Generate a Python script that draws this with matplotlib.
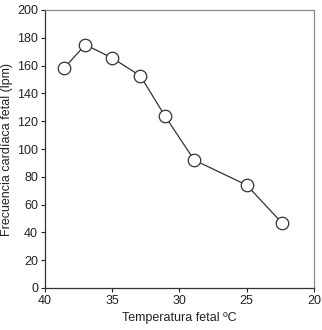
import matplotlib
matplotlib.use("Agg")
import matplotlib.pyplot as plt

temperatura = [38.6, 37.0, 35.0, 32.9, 31.1, 28.9, 25.0, 22.4]
frecuencia = [158, 175, 165.5, 152.5, 124, 92, 74, 47]
xticks = [40, 35, 30, 25, 20]
yticks = [0, 20, 40, 60, 80, 100, 120, 140, 160, 180, 200]

plt.rcParams['font.family'] = ['Liberation Sans', 'DejaVu Sans']
fig = plt.figure(figsize=(3.22, 3.3), dpi=100)
ax = fig.add_axes([45/322, 1 - 288/330, (314-45)/322, (288-10)/330])
ax.plot(temperatura, frecuencia, color='#333333', lw=0.9, marker='o', ms=9,
        mfc='white', mec='#333333', mew=0.9, zorder=3, clip_on=False)
ax.set_xlim(40, 20)
ax.set_ylim(0, 200)
ax.set_xticks(xticks)
ax.set_yticks(yticks)
ax.tick_params(direction='out', length=3, width=0.8, labelsize=9, colors='#222222', pad=2)
for s in ['top', 'right']:
    ax.spines[s].set_color('#888888')
    ax.spines[s].set_linewidth(0.9)
for s in ['left', 'bottom']:
    ax.spines[s].set_color('#333333')
    ax.spines[s].set_linewidth(0.9)
ax.set_xlabel('Temperatura fetal ºC', fontsize=9, color='#222222', labelpad=4)
ax.set_ylabel('Frecuencia cardíaca fetal (lpm)', fontsize=9, color='#222222', labelpad=3)
fig.savefig('out.png', dpi=100)
